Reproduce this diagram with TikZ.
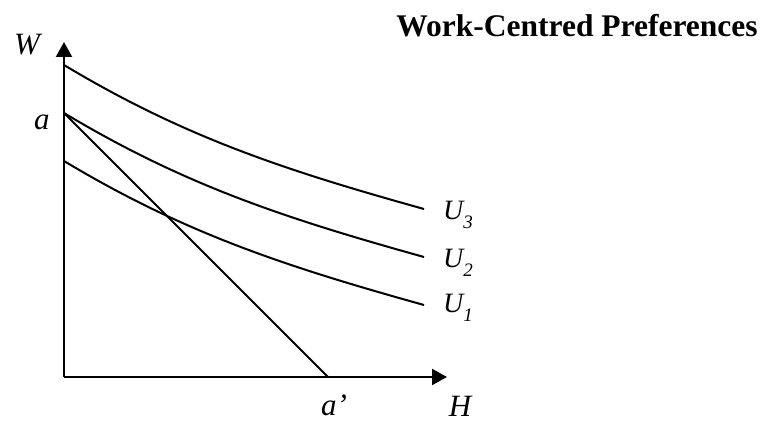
\documentclass[tikz,border=0pt]{standalone}
\usepackage{fontspec}
\setmainfont{Liberation Serif}
\usetikzlibrary{arrows.meta}
\tikzset{
  axis/.style={line width=2.2pt, -{Triangle[width=16pt,length=15pt]}},
  curve/.style={line width=2pt},
  lbl/.style={inner sep=0pt, font=\fontsize{31}{31}\selectfont\itshape},
  ulbl/.style={inner sep=0pt, anchor=west, font=\fontsize{28}{28}\selectfont\itshape},
}
\newcommand{\usub}[1]{U\raisebox{-0.3em}{\fontsize{19}{19}\selectfont #1}}
\begin{document}
\begin{tikzpicture}[x=1pt,y=-1pt]
\useasboundingbox (0,0) rectangle (772,425);
\coordinate (O) at (64,377);
\coordinate (Wtip) at (64,42);
\coordinate (Htip) at (447,377);
\coordinate (A) at (64,113);
\coordinate (Ap) at (328,377);
\coordinate (S3) at (64,65);
\coordinate (E3) at (424,209);
\coordinate (S2) at (64,113);
\coordinate (E2) at (424,257);
\coordinate (S1) at (64,161);
\coordinate (E1) at (424,305);
\draw[axis] (O) -- (Wtip);
\draw[axis] (O) -- (Htip);
\draw[curve] (S3) .. controls (184,137) and (284,170) .. (E3);
\draw[curve] (S2) .. controls (184,185) and (284,218) .. (E2);
\draw[curve] (S1) .. controls (184,233) and (284,266) .. (E1);
\draw[curve] (A) -- (Ap);
\node[lbl] (wl) at (27,45) {W};
\node[lbl] (al) at (42,122) {a};
\node[lbl] (apl) at (334,405) {a’};
\node[lbl] (hl) at (460,406) {H};
\node[ulbl] (u3) at (443,215) {\usub{3}};
\node[ulbl] (u2) at (443,263) {\usub{2}};
\node[ulbl] (u1) at (443,308) {\usub{1}};
\node[inner sep=0pt, font=\fontsize{31.5}{31.5}\selectfont\bfseries] (title) at (577,26) {Work-Centred Preferences};
\end{tikzpicture}
\end{document}
